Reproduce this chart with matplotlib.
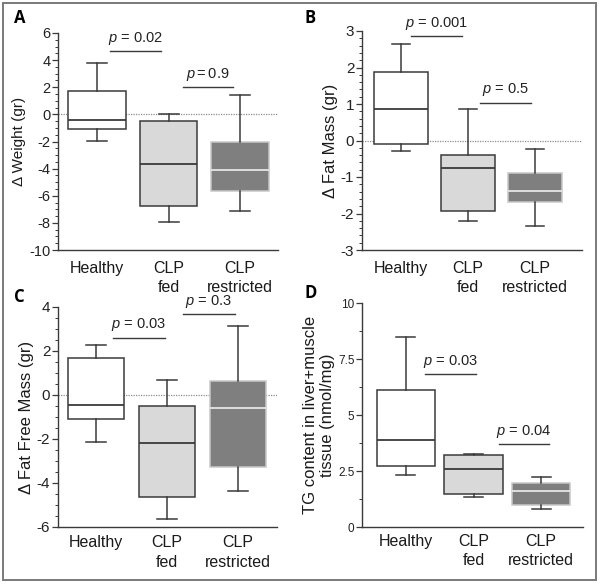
import matplotlib
matplotlib.use("Agg")
import matplotlib.pyplot as plt
from matplotlib.patches import Rectangle
from matplotlib.ticker import MultipleLocator, FuncFormatter

plt.rcParams['font.family'] = ['Liberation Sans', 'DejaVu Sans']
plt.rcParams['mathtext.fontset'] = 'custom'
plt.rcParams['mathtext.rm'] = 'Liberation Sans'
plt.rcParams['mathtext.it'] = 'Liberation Sans:italic'
plt.rcParams['axes.unicode_minus'] = False

groups = ["Healthy", "CLP\nfed", "CLP\nrestricted"]

# Panel A: delta weight
weight_lo = [-1.93, -7.9, -7.15]
weight_q1 = [-1.06, -6.75, -5.65]
weight_med = [-0.4, -3.67, -4.1]
weight_q3 = [1.72, -0.47, -2.0]
weight_hi = [3.78, 0.0, 1.44]

# Panel B: delta fat mass
fat_lo = [-0.29, -2.2, -2.33]
fat_q1 = [-0.1, -1.94, -1.68]
fat_med = [0.87, -0.75, -1.38]
fat_q3 = [1.88, -0.41, -0.89]
fat_hi = [2.65, 0.85, -0.23]

# Panel C: delta fat free mass
ffm_lo = [-2.13, -5.62, -4.36]
ffm_q1 = [-1.1, -4.64, -3.26]
ffm_med = [-0.44, -2.16, -0.59]
ffm_q3 = [1.68, -0.48, 0.62]
ffm_hi = [2.26, 0.67, 3.12]

# Panel D: TG content
tg_lo = [2.33, 1.34, 0.82]
tg_q1 = [2.72, 1.49, 0.97]
tg_med = [3.88, 2.61, 1.6]
tg_q3 = [6.1, 3.22, 1.97]
tg_hi = [8.5, 3.28, 2.24]

# p-value annotations: (x_start, x_end, y, text)
pA = [(1.18, 1.89, 4.69, r"$\it{p}$ = 0.02"), (2.2, 2.9, 2.01, r"$\it{p = 0.9}$")]
pB = [(1.15, 1.91, 2.85, r"$\it{p}$ = 0.001"), (2.18, 2.94, 1.04, r"$\it{p}$ = 0.5")]
pC = [(1.24, 1.97, 2.61, r"$\it{p}$ = 0.03"), (2.22, 2.96, 3.67, r"$\it{p}$ = 0.3")]
pD = [(1.28, 2.04, 6.82, r"$\it{p}$ = 0.03"), (2.37, 3.12, 3.69, r"$\it{p}$ = 0.04")]

fills = ["#ffffff", "#d9d9d9", "#7f7f7f"]
edges = ["#3a3a3a", "#3a3a3a", "#c8c8c8"]
medcols = ["#3a3a3a", "#3a3a3a", "#e6e6e6"]

fig = plt.figure(figsize=(6.0, 5.84), dpi=100)
fmt = FuncFormatter(lambda v, pos: "%g" % v)

def panel(rect, lo, q1, med, q3, hi, ylim, major, minor, ylabel, ylfs, tickfs,
          xlim, pvals, letter, letter_xy, zero=True, width=0.8, xpad=8, ylpad=2):
    ax = fig.add_axes(rect)
    stats = []
    for i in range(3):
        stats.append(dict(whislo=lo[i], q1=q1[i], med=med[i], q3=q3[i],
                          whishi=hi[i], fliers=[], label=groups[i]))
    if zero:
        ax.axhline(0, color="#8c8c8c", lw=0.9, ls=(0, (1, 1)), zorder=0)
    bp = ax.bxp(stats, positions=[1, 2, 3], widths=width, patch_artist=True,
                showfliers=False, capwidths=0.28,
                whiskerprops=dict(color="#3a3a3a", lw=1.1),
                capprops=dict(color="#3a3a3a", lw=1.1),
                medianprops=dict(lw=1.3))
    for i, b in enumerate(bp['boxes']):
        b.set_facecolor(fills[i])
        b.set_edgecolor(edges[i])
        b.set_linewidth(1.1)
        bp['medians'][i].set_color(medcols[i])
    ax.set_xlim(*xlim)
    ax.set_ylim(*ylim)
    ax.yaxis.set_major_locator(MultipleLocator(major))
    ax.yaxis.set_minor_locator(MultipleLocator(minor))
    ax.yaxis.set_major_formatter(fmt)
    for s in ["top", "right"]:
        ax.spines[s].set_visible(False)
    for s in ["left", "bottom"]:
        ax.spines[s].set_color("#3a3a3a")
        ax.spines[s].set_linewidth(1.0)
    ax.tick_params(axis="y", which="major", length=4, width=0.9, color="#3a3a3a",
                   labelsize=tickfs, labelcolor="#222222", pad=1.5)
    ax.tick_params(axis="y", which="minor", length=2, width=0.7, color="#3a3a3a")
    ax.tick_params(axis="x", length=0, labelsize=11.5, pad=xpad, labelcolor="#1a1a1a")
    ax.set_xticks([1, 2, 3])
    ax.set_xticklabels(groups, linespacing=1.35)
    ax.set_ylabel(ylabel, fontsize=ylfs, color="#1a1a1a", labelpad=ylpad)
    for (x0, x1, y, t) in pvals:
        ax.plot([x0, x1], [y, y], color="#3a3a3a", lw=1.0)
        ax.annotate(t, xy=((x0 + x1) / 2, y), xytext=(0, 3), textcoords="offset points",
                    ha="center", va="bottom", fontsize=10.5, color="#222222")
    fig.text(letter_xy[0] / 600, 1 - letter_xy[1] / 584, letter, fontsize=12,
             fontweight="bold", ha="left", va="top", family=["Open Sans", "DejaVu Sans"])
    return ax

panel([58 / 600, 1 - 250 / 584, 220 / 600, 217 / 584], weight_lo, weight_q1, weight_med,
      weight_q3, weight_hi, (-10, 6), 2, 0.5, "Δ Weight (gr)", 11, 10.5,
      (0.455, 3.53), pA, "A", (14, 9))
panel([362 / 600, 1 - 250 / 584, 220 / 600, 219 / 584], fat_lo, fat_q1, fat_med,
      fat_q3, fat_hi, (-3, 3), 1, 0.2, "Δ Fat Mass (gr)", 12, 11,
      (0.42, 3.7), pB, "B", (304, 9))
panel([58 / 600, 1 - 527 / 584, 219 / 600, 220 / 584], ffm_lo, ffm_q1, ffm_med,
      ffm_q3, ffm_hi, (-6, 4), 2, 0.5, "Δ Fat Free Mass (gr)", 12, 11,
      (0.465, 3.55), pC, "C", (14, 288), xpad=6)
panel([362 / 600, 1 - 527 / 584, 221 / 600, 224 / 584], tg_lo, tg_q1, tg_med,
      tg_q3, tg_hi, (0, 10), 2.5, 1.25, "TG content in liver+muscle\ntissue (nmol/mg)", 12, 8.5,
      (0.35, 3.62), pD, "D", (304, 284), zero=False, width=0.86, xpad=5)

fig.add_artist(Rectangle((3 / 600, 1 - 580 / 584), 593 / 600, 577 / 584,
                         transform=fig.transFigure, fill=False, ec="#7a7a7a", lw=1.4))

fig.savefig("out.png", dpi=100)
